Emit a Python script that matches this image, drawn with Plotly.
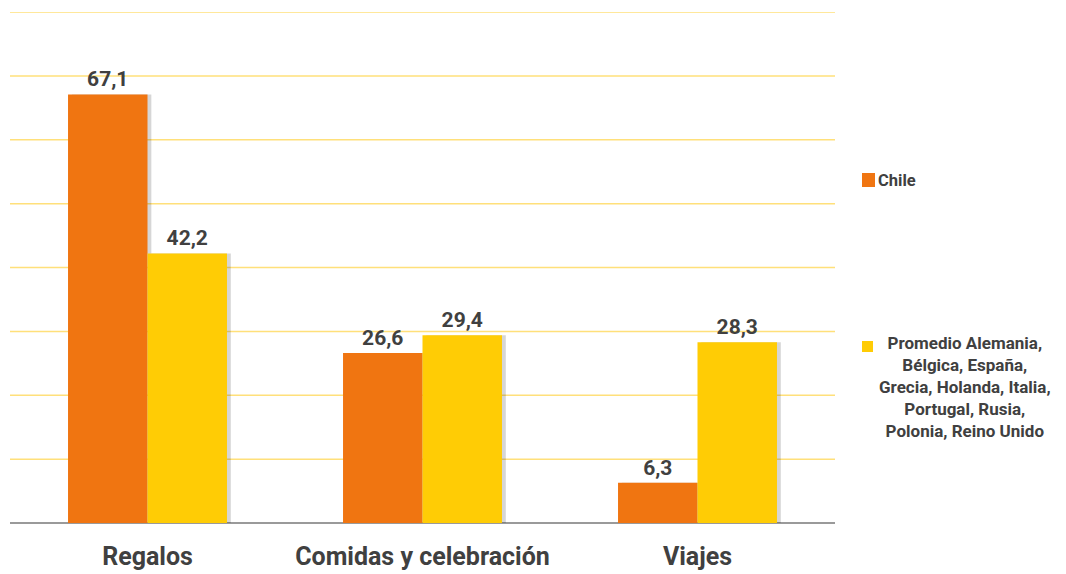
import plotly.graph_objects as go

categories = ["Regalos", "Comidas y celebración", "Viajes"]
chile = [67.1, 26.6, 6.3]
promedio = [42.2, 29.4, 28.3]
gridlines = [10, 20, 30, 40, 50, 60, 70, 80]
series_names = ["Chile", "Promedio Alemania,<br>Bélgica, España,<br>Grecia, Holanda, Italia,<br>Portugal, Rusia,<br>Polonia, Reino Unido"]

ORANGE = "#F07511"
YELLOW = "#FFCC05"
TXT = "#404040"
FONT = "Roboto"
BW = 0.289      # bar width in category units
SH = 0.014      # shadow offset

def fmt(v):
    return f"{v:.1f}".replace(".", ",")

fig = go.Figure()
# soft shadows behind the bars
for vals, off in ((chile, -BW), (promedio, 0.0)):
    fig.add_bar(x=categories, y=vals, offset=off + SH, width=BW,
                marker=dict(color="rgba(0,0,0,0.16)", line_width=0),
                hoverinfo="skip", showlegend=False)
fig.add_bar(x=categories, y=chile, name="Chile", marker_color=ORANGE,
            offset=-BW, width=BW, marker_line_width=0,
            text=[fmt(v) for v in chile], textposition="outside",
            textfont=dict(family=FONT, size=21, color=TXT, weight="bold"),
            cliponaxis=False, showlegend=False)
fig.add_bar(x=categories, y=promedio, name="Promedio", marker_color=YELLOW,
            offset=0, width=BW, marker_line_width=0,
            text=[fmt(v) for v in promedio], textposition="outside",
            textfont=dict(family=FONT, size=21, color=TXT, weight="bold"),
            cliponaxis=False, showlegend=False)

for g in gridlines:
    fig.add_shape(type="line", xref="paper", yref="y", x0=0, x1=1, y0=g, y1=g,
                  line=dict(color="#FFE07A", width=1.5), layer="below")

fig.update_layout(
    width=1058, height=566,
    margin=dict(l=2, r=231, t=4, b=51),
    paper_bgcolor="white", plot_bgcolor="white",
    barmode="overlay",
    font=dict(family=FONT, color=TXT),
    xaxis=dict(showgrid=False, showline=False, ticks="", range=[-0.5, 2.5],
               tickfont=dict(family=FONT, size=25, color=TXT, weight="bold"),
               ticklabelstandoff=16),
    yaxis=dict(range=[0, 80], showticklabels=False, showgrid=False, zeroline=True,
               zerolinecolor="#9A9A9A", zerolinewidth=1.5, showline=False),
)

# legend (drawn manually to match placement)
fig.add_shape(type="rect", xref="paper", yref="paper",
              x0=(862 - 10) / 825, x1=(875 - 10) / 825,
              y0=(523 - 187) / 511, y1=(523 - 173) / 511,
              fillcolor=ORANGE, line_width=0)
fig.add_annotation(xref="paper", yref="paper", x=(876 - 10) / 825, y=(523 - 180) / 511,
                   text=series_names[0], showarrow=False, xanchor="left", yanchor="middle",
                   font=dict(family=FONT, size=16.5, color=TXT, weight="bold"))
fig.add_shape(type="rect", xref="paper", yref="paper",
              x0=(862 - 10) / 825, x1=(873 - 10) / 825,
              y0=(523 - 352) / 511, y1=(523 - 341) / 511,
              fillcolor=YELLOW, line_width=0)
fig.add_annotation(xref="paper", yref="paper", x=(965 - 10) / 825, y=(523 - 331) / 511,
                   text=series_names[1], showarrow=False, xanchor="center", yanchor="top",
                   align="center",
                   font=dict(family=FONT, size=17, color=TXT, weight="bold"))

fig.write_html("out.html")
